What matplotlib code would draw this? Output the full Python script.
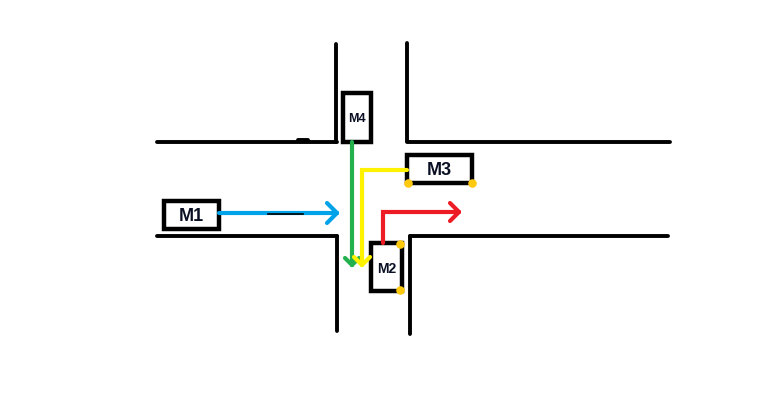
import matplotlib.pyplot as plt
from matplotlib.patches import Rectangle

W, H = 769, 406

# road edges, pixel coords (x0, y0, x1, y1)
road_x0 = [157, 336, 407, 407, 157, 337, 410, 410, 298]
road_y0 = [143, 45, 44, 143, 237, 237, 237, 237, 141]
road_x1 = [337, 336, 407, 670, 337, 337, 668, 410, 308]
road_y1 = [143, 143, 142, 143, 237, 332, 237, 335, 141]

# machines: label, left, top, right, bottom, font size
machine_names = ['M1', 'M2', 'M3', 'M4']
machine_left = [164, 371, 407, 343]
machine_top = [202, 244, 156, 94]
machine_right = [219, 402, 472, 371]
machine_bottom = [230, 292, 184, 143]
machine_fontsize = [13, 10, 13, 9]

# flow paths (polyline xs, ys) and arrow tip direction
blue_x, blue_y = [219, 337], [214, 214]
green_x, green_y = [352, 352], [143, 266]
yellow_x, yellow_y = [407, 362, 362], [171, 171, 266]
red_x, red_y = [383, 383, 459], [244, 213, 213]

dot_x = [408, 472, 400, 400]
dot_y = [184, 184, 245, 291]

fig = plt.figure(figsize=(W / 100, H / 100), dpi=100)
ax = fig.add_axes([0, 0, 1, 1])
ax.set_xlim(0, W)
ax.set_ylim(H, 0)
ax.axis('off')

for x0, y0, x1, y1 in zip(road_x0, road_y0, road_x1, road_y1):
    ax.plot([x0, x1], [y0, y1], color='black', lw=2.8, solid_capstyle='round')

for name, l, t, r, b, fs in zip(machine_names, machine_left, machine_top,
                                 machine_right, machine_bottom, machine_fontsize):
    ax.add_patch(Rectangle((l, t), r - l, b - t, fill=False, ec='black', lw=3.2))
    ax.text((l + r) / 2, (t + b) / 2 + 1, name, ha='center', va='center',
            fontsize=fs, fontweight='bold', color='#0a0f24', family='Liberation Sans')


def arrow(xs, ys, color, head):
    ax.plot(xs, ys, color=color, lw=3, solid_capstyle='round', solid_joinstyle='miter')
    tx, ty = xs[-1], ys[-1]
    px, py = xs[-2], ys[-2]
    dx = (tx - px) / max(abs(tx - px), abs(ty - py))
    dy = (ty - py) / max(abs(tx - px), abs(ty - py))
    nx, ny = -dy, dx
    for s in (1, -1):
        ax.plot([tx - dx * head + s * nx * head, tx], [ty - dy * head + s * ny * head, ty],
                color=color, lw=3, solid_capstyle='round')


arrow(blue_x, blue_y, '#00a2e8', 10)
arrow(green_x, green_y, '#22b14c', 7)
arrow(yellow_x, yellow_y, '#fff200', 8)
arrow(red_x, red_y, '#ed1c24', 9)

# stray stroke on top of the blue arrow
ax.plot([268, 303], [215, 215], color='black', lw=1.2, zorder=4)

ax.scatter(dot_x, dot_y, s=38, color='#ffc90e', zorder=5, linewidths=0)

fig.savefig('out.png', dpi=100, facecolor='white')
